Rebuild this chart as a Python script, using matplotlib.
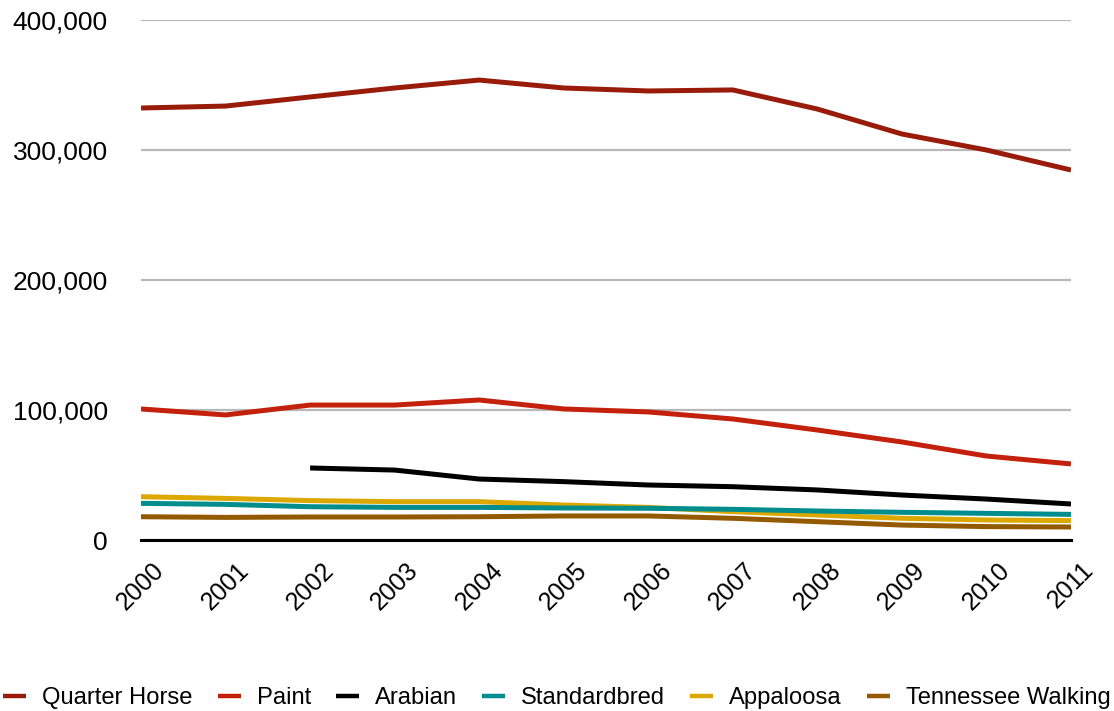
import matplotlib
matplotlib.use("Agg")
import matplotlib.pyplot as plt
from matplotlib.ticker import FuncFormatter

plt.rcParams['font.family'] = ['Liberation Sans', 'DejaVu Sans']

years = [2000, 2001, 2002, 2003, 2004, 2005, 2006, 2007, 2008, 2009, 2010, 2011]
year_labels = [str(y) for y in years]

quarter_horse = [332300, 333800, 340800, 347700, 353800, 347700, 345400, 346200, 331500, 312300, 300000, 284600]
paint = [100800, 96200, 103800, 103800, 107700, 100800, 98500, 93100, 84600, 75400, 64600, 58500]
arabian_years = [2002, 2003, 2004, 2005, 2006, 2007, 2008, 2009, 2010, 2011]
arabian = [55400, 53800, 46900, 44900, 42300, 41000, 38500, 34600, 31500, 27700]
standardbred = [28200, 27400, 25600, 25100, 25100, 24600, 24400, 23600, 22300, 21300, 20500, 19700]
appaloosa = [33300, 32000, 30300, 29500, 29500, 26900, 25100, 21800, 19200, 16700, 15400, 14900]
tennessee_walking = [17900, 17400, 17700, 17700, 17900, 18500, 18500, 16700, 14100, 11500, 10300, 10000]

y_ticks = [0, 100000, 200000, 300000, 400000]

fig = plt.figure(figsize=(11.14, 7.11), dpi=100)
ax = fig.add_axes([141 / 1114, 1 - 540 / 711, (1071 - 141) / 1114, (540 - 20) / 711])

lw = 3.6
series = [
    ("Quarter Horse", years, quarter_horse, "#991c0b", 3),
    ("Paint", years, paint, "#c4210d", 3),
    ("Arabian", arabian_years, arabian, "#000000", 3),
    ("Standardbred", years, standardbred, "#008d8d", 3),
    ("Appaloosa", years, appaloosa, "#dca800", 2.5),
    ("Tennessee Walking", years, tennessee_walking, "#935a00", 3.2),
]
for name, xs, ys, color, z in series:
    ax.plot(xs, ys, color=color, lw=lw, label=name, zorder=z,
            solid_joinstyle='round', solid_capstyle='butt')

ax.set_xlim(2000, 2011)
ax.set_ylim(0, 400000)
ax.set_yticks(y_ticks)
ax.yaxis.set_major_formatter(FuncFormatter(lambda v, p: f"{int(v):,}"))
ax.set_xticks(years)
ax.set_xticklabels(year_labels, rotation=45, ha='center', va='top')

ax.grid(axis='y', color='#b8b8b8', lw=1.6)
ax.set_axisbelow(True)
for s in ['top', 'right', 'left']:
    ax.spines[s].set_visible(False)
ax.spines['bottom'].set_color('black')
ax.spines['bottom'].set_linewidth(2.2)
ax.spines['bottom'].set_zorder(1)
ax.tick_params(axis='y', length=0, pad=24, labelsize=19)
ax.tick_params(axis='x', length=0, pad=13, labelsize=18)

leg = fig.legend(loc='center', bbox_to_anchor=(0.5, 1 - 698 / 711), ncol=6, frameon=False,
                 fontsize=17.1, handlelength=0.97, handletextpad=0.68, columnspacing=1.05,
                 borderaxespad=0, borderpad=0)
for h in leg.get_lines():
    h.set_linewidth(3.2)

fig.savefig("out.png", dpi=100)
